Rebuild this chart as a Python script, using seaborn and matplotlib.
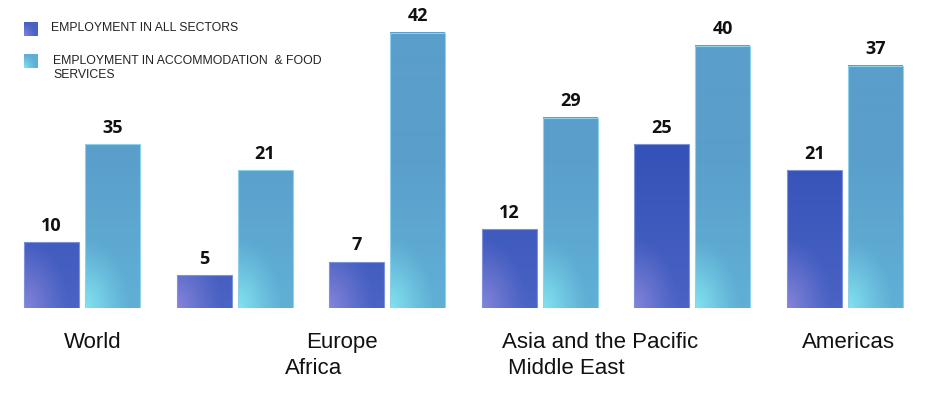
import numpy as np
import pandas as pd
import matplotlib
matplotlib.use("Agg")
import matplotlib.pyplot as plt
import matplotlib.transforms as mtransforms
import seaborn as sns

# data
regions = ["World", "Africa", "Europe", "Asia and the Pacific", "Middle East", "Americas"]
series = ["EMPLOYMENT IN ALL SECTORS", "EMPLOYMENT IN ACCOMMODATION  & FOOD\nSERVICES"]
all_sectors = [10, 5, 7, 12, 25, 21]
accommodation = [25, 21, 42, 29, 40, 37]   # World bar is drawn at ~25 in the source, labelled 35
all_labels = ["10", "5", "7", "12", "25", "21"]
acc_labels = ["35", "21", "42", "29", "40", "37"]

df = pd.DataFrame({
    "region": regions * 2,
    "series": [series[0]] * len(regions) + [series[1]] * len(regions),
    "value": all_sectors + accommodation,
})

sns.set_style("white")
plt.rcParams["font.family"] = ["Liberation Sans", "DejaVu Sans"]

W, H = 950, 400
fig = plt.figure(figsize=(W / 100, H / 100), dpi=100)
ax = fig.add_axes([0, 0.23, 1, 0.77])

dark_mid = "#4560C2"
light_mid = "#5EA9D2"
sns.barplot(data=df, x="region", y="value", hue="series", palette=[dark_mid, light_mid],
            width=0.8, gap=0.1, saturation=1, legend=False, ax=ax)

XLIM = (-0.537, 5.688)
YLIM = (0, 47)
ax.set_xlim(*XLIM)
ax.set_ylim(*YLIM)
px_x = W / (XLIM[1] - XLIM[0])
px_y = (H * 0.77) / (YLIM[1] - YLIM[0])


def hexrgb(c):
    return np.array(matplotlib.colors.to_rgb(c))


def gradient(w_px, h_px, top, bottom, glow, gw=45.0, gh=70.0):
    nx = max(int(round(w_px)), 2)
    ny = max(int(round(h_px)), 2)
    xx = np.linspace(0, w_px, nx)[None, :]
    yy = np.linspace(0, h_px, ny)[:, None]
    t = np.clip(yy / 160.0, 0, 1)[..., None]
    base = hexrgb(bottom) * (1 - t) + hexrgb(top) * t
    base = np.broadcast_to(base, (ny, nx, 3))
    d = np.sqrt((xx / gw) ** 2 + (yy / gh) ** 2)
    w = np.clip(1 - d, 0, 1)[..., None] ** 1.2
    return base * (1 - w) + hexrgb(glow) * w


styles = [
    dict(top="#3452B8", bottom="#4A63C4", glow="#8584D9", edge="#7F93DA"),
    dict(top="#5A9ECB", bottom="#60B0D6", glow="#82E3EF", edge="#8FD0EA"),
]

for cont, st, labels in zip(ax.containers, styles, [all_labels, acc_labels]):
    for p in cont.patches:
        x0, y0 = p.get_x(), p.get_y()
        w, h = p.get_width(), p.get_height()
        img = gradient(w * px_x, h * px_y, st["top"], st["bottom"], st["glow"])
        ax.imshow(img, extent=(x0, x0 + w, y0, y0 + h), origin="lower",
                  aspect="auto", interpolation="bilinear", zorder=0.9)
        p.set_facecolor("none")
        p.set_edgecolor(st["edge"])
        p.set_linewidth(0.8)
    ax.bar_label(cont, labels=labels, padding=5.5, fontsize=13, fontweight="bold",
                 family=["Open Sans", "DejaVu Sans"], color="#111111")

ax.set_xlim(*XLIM)
ax.set_ylim(*YLIM)
ax.set_xticks([])
ax.set_yticks([])
ax.set_xlabel("")
ax.set_ylabel("")
sns.despine(ax=ax, left=True, bottom=True)

# region names, staggered as in the source
label_x = [0.072, 1.518, 1.704, 3.395, 3.174, 5.02]
label_row = [0, 1, 0, 0, 1, 0]
trans = mtransforms.blended_transform_factory(ax.transData, ax.transAxes)
for name, lx, row in zip(regions, label_x, label_row):
    ax.text(lx, (-40 - 26 * row) / (H * 0.77), name, transform=trans, ha="center",
            va="baseline", fontsize=16, color="#111111", clip_on=False)

# legend: gradient squares + text
sq = 14
for i, (st, ytop) in enumerate(zip(styles, [22, 54])):
    img = gradient(sq, sq, st["top"], st["bottom"], st["glow"], gw=12, gh=14)
    fig.figimage(img, xo=24, yo=H - ytop - sq, origin="lower", zorder=3)
fig.text(51 / W, 1 - 31 / H, series[0], fontsize=8.8, va="baseline", color="#222222")
fig.text(53 / W, 1 - 78 / H, series[1], fontsize=8.8, va="baseline", color="#222222",
         linespacing=1.25)

fig.savefig("out.png", dpi=100)
